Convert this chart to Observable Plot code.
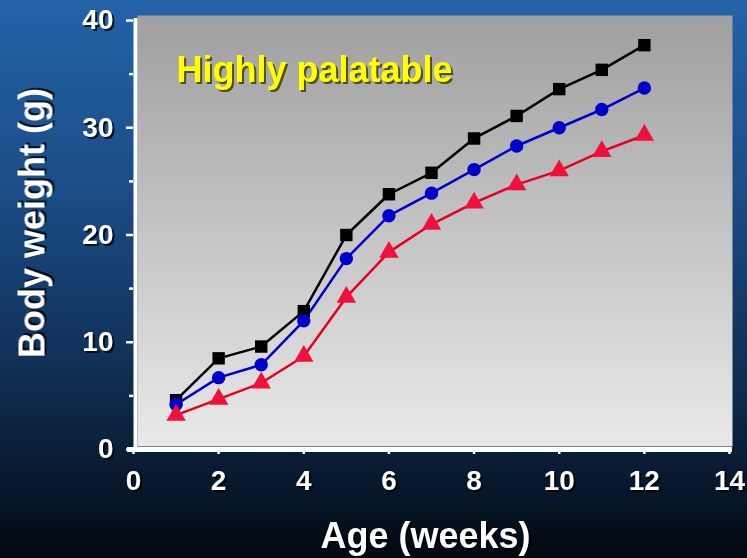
<!DOCTYPE html>
<html>
<head>
<meta charset="utf-8">
<script src="https://cdn.jsdelivr.net/npm/d3@7"></script>
<script src="https://cdn.jsdelivr.net/npm/@observablehq/plot@0.6"></script>
<style>
html, body { margin: 0; padding: 0; background: #020810; }
#chart {
  width: 747px; height: 558px; overflow: hidden;
  background: linear-gradient(to bottom, #2363a7 0%, #1b4d87 33%, #12355f 60%, #081a30 85%, #020810 100%);
}
#chart svg { display: block; }
#chart svg text { filter: drop-shadow(2px 2px 0px rgba(0,0,0,0.75)); }
#chart svg g.annot text { filter: drop-shadow(2px 2px 0px rgba(70,70,0,0.9)); }
</style>
</head>
<body>
<div id="chart"></div>
<script>
// ---- data ----
const weeks = [1, 2, 3, 4, 5, 6, 7, 8, 9, 10, 11, 12];
const squareSeries   = [4.6, 8.5, 9.6, 12.9, 20.0, 23.8, 25.8, 29.0, 31.1, 33.6, 35.4, 37.7];
const circleSeries   = [4.2, 6.7, 7.9, 12.0, 17.8, 21.8, 23.9, 26.1, 28.3, 30.0, 31.7, 33.7];
const triangleSeries = [3.2, 4.7, 6.2, 8.7, 14.2, 18.4, 21.0, 23.0, 24.7, 26.0, 27.8, 29.3];
const xTicks = [0, 2, 4, 6, 8, 10, 12, 14];
const yTicks = [0, 10, 20, 30, 40];
const yMinorTicks = [5, 15, 25, 35];
const xLabel = "Age (weeks)";
const yLabel = "Body weight (g)";
const annotation = "Highly palatable";

const toRows = (vals) => weeks.map((w, i) => ({week: w, weight: vals[i]}));
const squares = toRows(squareSeries);
const circles = toRows(circleSeries);
const triangles = toRows(triangleSeries);

const defs = () => {
  const d = d3.create("svg:defs");
  const lg = d.append("linearGradient").attr("id", "panelGrad")
    .attr("x1", 0).attr("y1", 0).attr("x2", 0).attr("y2", 1);
  lg.append("stop").attr("offset", "0%").attr("stop-color", "#9f9f9f");
  lg.append("stop").attr("offset", "100%").attr("stop-color", "#e9e9e9");
  return d.node();
};

const chart = Plot.plot({
  width: 747,
  height: 558,
  marginLeft: 133,
  marginRight: 18,
  marginTop: 20,
  marginBottom: 109,
  style: {background: "transparent", fontFamily: "'Liberation Sans', Arial, sans-serif", fontWeight: "bold", color: "white"},
  x: {domain: [0, 14], axis: null},
  y: {domain: [0, 40], axis: null},
  marks: [
    defs,
    Plot.frame({fill: "url(#panelGrad)", stroke: "none", insetTop: -5, insetLeft: 4, insetRight: -3, insetBottom: 3}),
    // axes
    Plot.axisY(yMinorTicks, {tickSize: 4, tickFormat: () => "", stroke: "white", strokeWidth: 2.5, label: null}),
    Plot.axisY(yTicks, {tickSize: 7, tickPadding: 13, fontSize: 28, fontWeight: "bold", fill: "white", stroke: "white", strokeWidth: 2.5, label: null}),
    Plot.axisX(xTicks, {tickSize: 5, tickPadding: 16, fontSize: 28, fontWeight: "bold", fill: "white", stroke: "white", strokeWidth: 2.5, label: null}),
    Plot.ruleX([0], {stroke: "white", strokeWidth: 4, dx: 2, insetTop: -2}),
    Plot.ruleY([0], {stroke: "white", strokeWidth: 5, insetLeft: -6, insetRight: -3}),
    // series
    Plot.line(squares, {x: "week", y: "weight", stroke: "#000000", strokeWidth: 2.5}),
    Plot.line(circles, {x: "week", y: "weight", stroke: "#0000cc", strokeWidth: 2.5}),
    Plot.line(triangles, {x: "week", y: "weight", stroke: "#e60020", strokeWidth: 2.5}),
    Plot.dot(squares, {x: "week", y: "weight", symbol: "square", r: 7, fill: "#000000", stroke: "none"}),
    Plot.dot(circles, {x: "week", y: "weight", symbol: "circle", r: 6.7, fill: "#0000cc", stroke: "none"}),
    Plot.dot(triangles, {x: "week", y: "weight", symbol: "triangle", r: 7.2, fill: "#f0103a", stroke: "none"}),
    // labels
    Plot.text([yLabel], {frameAnchor: "left", rotate: -90, textAnchor: "middle", lineAnchor: "middle", dx: -101, dy: -12, fontSize: 36, fontWeight: "bold", fill: "white"}),
    Plot.text([xLabel], {frameAnchor: "bottom", textAnchor: "middle", lineAnchor: "middle", dx: -6, dy: 87, fontSize: 36, fontWeight: "bold", fill: "white"}),
    Plot.text([annotation], {frameAnchor: "top-left", textAnchor: "start", lineAnchor: "middle", dx: 43, dy: 50, fontSize: 36, fontWeight: "bold", fill: "#ffff00"})
  ]
});

// mark the annotation group for its own shadow colour
d3.select(chart).selectAll("g").filter(function() { return this.getAttribute("fill") === "#ffff00"; }).classed("annot", true);
document.getElementById("chart").appendChild(chart);
</script>
</body>
</html>
